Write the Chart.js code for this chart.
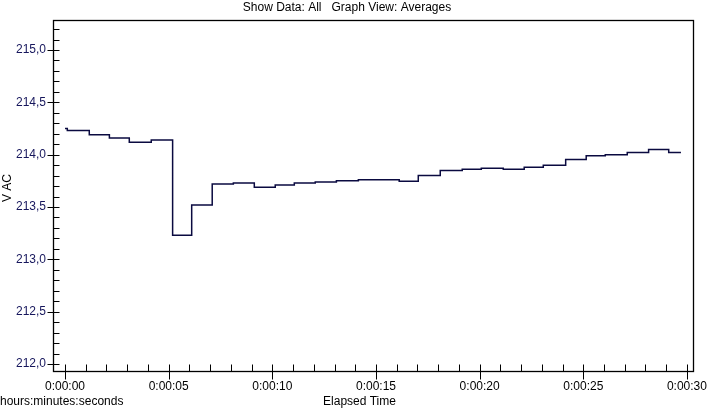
<!DOCTYPE html>
<html>
<head>
<meta charset="utf-8">
<script src="https://cdn.jsdelivr.net/npm/chart.js@4/dist/chart.umd.min.js"></script>
<style>
html, body { margin: 0; padding: 0; background: #fff; }
canvas { display: block; }
</style>
</head>
<body>
<canvas id="chart" width="719" height="408"></canvas>
<script>
// elapsed seconds at which each average starts, and the average (V AC)
var times = [0, 0.11, 1.17, 2.14, 3.10, 4.16, 5.19, 6.11, 7.10, 8.12, 9.13, 10.14, 11.06, 12.07, 13.09, 14.15,
             15.10, 16.12, 17.04, 18.10, 19.16, 20.08, 21.14, 22.15, 23.07, 24.15, 25.14, 26.06, 27.12, 28.15, 29.12, 29.71];
var volts = [214.25, 214.23, 214.19, 214.16, 214.12, 214.14, 213.23, 213.52, 213.72, 213.73, 213.69, 213.71, 213.73, 213.74, 213.75, 213.76,
             213.76, 213.745, 213.80, 213.85, 213.86, 213.87, 213.86, 213.88, 213.90, 213.955, 213.99, 214.00, 214.02, 214.05, 214.02, 214.02];

var xTickValues = [0, 5, 10, 15, 20, 25, 30];
var xTickLabels = ['0:00:00', '0:00:05', '0:00:10', '0:00:15', '0:00:20', '0:00:25', '0:00:30'];
var yTickValues = [212, 212.5, 213, 213.5, 214, 214.5, 215];
var yTickLabels = ['212,0', '212,5', '213,0', '213,5', '214,0', '214,5', '215,0'];

var FONT = 'Liberation Sans, Arial, sans-serif';

function findIdx(arr, v) {
    for (var i = 0; i < arr.length; i++) {
        if (Math.abs(arr[i] - v) < 1e-6) return i;
    }
    return -1;
}

// frame, inside/outside tick marks and the bottom captions
var frameTicks = {
    id: 'frameTicks',
    afterDraw: function (chart) {
        var ctx = chart.ctx;
        var a = chart.chartArea;
        var xs = chart.scales.x, ys = chart.scales.y;
        var L = Math.round(a.left) + 0.5, R = Math.round(a.right) - 0.5;
        var T = Math.round(a.top) + 0.5, B = Math.round(a.bottom) + 0.5;
        ctx.save();
        ctx.strokeStyle = '#000';
        ctx.lineWidth = 1;
        ctx.beginPath();
        xs.ticks.forEach(function (t) {
            var px = Math.round(xs.getPixelForValue(t.value)) + 0.5;
            var major = findIdx(xTickValues, t.value) >= 0;
            ctx.moveTo(px, B - 7);
            ctx.lineTo(px, B + (major ? 8 : 0));
        });
        ys.ticks.forEach(function (t) {
            var py = Math.round(ys.getPixelForValue(t.value)) + 0.5;
            var major = findIdx(yTickValues, t.value) >= 0;
            ctx.moveTo(L - (major ? 6 : 0), py);
            ctx.lineTo(L + 6, py);
        });
        ctx.stroke();
        ctx.lineWidth = 1.3;
        ctx.strokeRect(L, T, R - L, B - T);
        ctx.fillStyle = '#000';
        ctx.font = '12px ' + FONT;
        ctx.textBaseline = 'alphabetic';
        ctx.textAlign = 'left';
        ctx.fillText('hours:minutes:seconds', 0, 405);
        ctx.textAlign = 'center';
        ctx.fillText('Elapsed Time', chart.width / 2, 405);
        ctx.translate(7.5, 188);
        ctx.rotate(-Math.PI / 2);
        ctx.textBaseline = 'middle';
        ctx.fillText('V AC', 0, 0);
        ctx.restore();
    }
};

var points = times.map(function (t, i) { return { x: t, y: volts[i] }; });

var ctx = document.getElementById('chart').getContext('2d');
window.chart = new Chart(ctx, {
    type: 'line',
    data: {
        datasets: [{
            label: 'V AC',
            data: points,
            stepped: true,
            borderColor: '#0a0a40',
            borderWidth: 1.5,
            pointRadius: 0,
            fill: false
        }]
    },
    options: {
        responsive: false,
        animation: false,
        layout: { padding: { top: 0, right: 25, bottom: 0, left: 0 } },
        plugins: {
            legend: { display: false },
            tooltip: { enabled: false },
            title: {
                display: true,
                text: 'Show Data: All   Graph View: Averages',
                color: '#000',
                font: { family: FONT, size: 12, weight: 'normal' },
                padding: { top: 0, bottom: 5.6 }
            }
        },
        scales: {
            x: {
                type: 'linear',
                min: -0.58,
                max: 30.34,
                grid: { display: false, drawTicks: false },
                border: { display: false },
                afterFit: function (s) { s.height = 37; },
                ticks: {
                    stepSize: 1,
                    autoSkip: false,
                    maxRotation: 0,
                    includeBounds: false,
                    maxTicksLimit: 1000,
                    padding: 8,
                    color: '#000',
                    font: { family: FONT, size: 12 },
                    callback: function (v) {
                        var i = findIdx(xTickValues, v);
                        return i >= 0 ? xTickLabels[i] : '';
                    }
                }
            },
            y: {
                min: 211.933,
                max: 215.287,
                grid: { display: false, drawTicks: false },
                border: { display: false },
                afterFit: function (s) { s.width = 53; },
                ticks: {
                    stepSize: 0.1,
                    autoSkip: false,
                    includeBounds: false,
                    maxTicksLimit: 1000,
                    padding: 7,
                    color: '#16165c',
                    font: { family: FONT, size: 12 },
                    callback: function (v) {
                        var i = findIdx(yTickValues, v);
                        return i >= 0 ? yTickLabels[i] : '';
                    }
                }
            }
        }
    },
    plugins: [frameTicks]
});
</script>
</body>
</html>
